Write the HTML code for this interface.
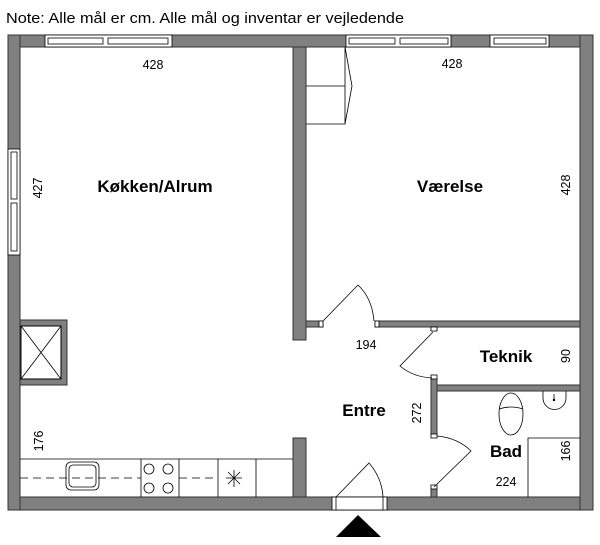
<!DOCTYPE html>
<html><head><meta charset="utf-8"><style>
html,body{margin:0;padding:0;background:#fff;width:600px;height:545px;overflow:hidden}
svg{display:block}
text{font-family:"Liberation Sans",sans-serif;fill:#000}
.b{font-weight:bold;font-size:17px}
.d{font-size:12.5px}
</style></head><body>
<svg width="600" height="545" viewBox="0 0 600 545" xmlns="http://www.w3.org/2000/svg">
<text x="6" y="23" font-size="15" textLength="398" lengthAdjust="spacingAndGlyphs">Note: Alle mål er cm. Alle mål og inventar er vejledende</text>
<g fill="#808080" stroke="#333" stroke-width="1">
<rect x="8" y="35" width="585" height="12"/>
<rect x="8" y="497" width="585" height="13"/>
<rect x="8" y="35" width="12" height="475"/>
<rect x="580" y="35" width="13" height="475"/>
<rect x="293" y="47" width="13" height="293"/>
<rect x="293" y="438" width="13" height="59"/>
<rect x="306" y="321" width="17" height="6"/>
<rect x="375" y="321" width="205" height="6"/>
<rect x="431" y="378" width="6" height="57"/>
<rect x="431" y="487" width="6" height="10"/>
<rect x="431" y="327" width="6" height="3"/>
<rect x="437" y="385" width="143" height="6"/>
<rect x="20" y="320" width="47" height="65"/>
</g>
<rect x="21" y="326" width="40" height="53" fill="#fff" stroke="#000"/>
<path d="M21 326L61 379M61 326L21 379" stroke="#000" stroke-width="0.8"/>
<g fill="#fff" stroke="#000" stroke-width="0.8">
<rect x="45" y="35" width="127" height="12"/>
<rect x="48" y="38" width="55" height="6"/><rect x="108" y="38" width="60" height="6"/>
<rect x="346" y="35" width="105" height="12"/>
<rect x="349" y="38" width="46" height="6"/><rect x="400" y="38" width="48" height="6"/>
<rect x="490" y="35" width="59" height="12"/>
<rect x="494" y="38" width="52" height="6"/>
<rect x="8" y="149" width="12" height="106"/>
<rect x="11" y="152" width="6" height="47"/><rect x="11" y="203" width="6" height="48"/>
<rect x="332" y="497" width="55" height="13"/>
<line x1="336" y1="497" x2="336" y2="510"/><line x1="383" y1="497" x2="383" y2="510"/>
<rect x="319" y="321" width="4" height="6"/><rect x="375" y="321" width="4" height="6"/>
<rect x="431" y="327" width="6" height="4"/><rect x="431" y="375" width="6" height="4"/>
<rect x="431" y="434" width="6" height="4"/><rect x="431" y="485" width="6" height="4"/>
</g>
<g fill="none" stroke="#000" stroke-width="0.8">
<path d="M323 321L358 285Q372 298 374 321"/>
<path d="M433 332L400 366Q413 377 432 378"/>
<path d="M437 436Q458 438 471 451L434 487"/>
<path d="M336 497L369 463Q382 478 383 497"/>
<path d="M306 86H345M306 124H345V47M345 47L352 86L345 124"/>
<path d="M20 459H293M141 459V497M179 459V497M218 459V497M256 459V497"/>
<path d="M20 478H141M179 478H218" stroke-dasharray="8 5"/>
<rect x="66" y="462" width="33" height="28" rx="5"/>
<rect x="69" y="465" width="27" height="22" rx="4"/>
<circle cx="149" cy="469" r="5"/><circle cx="168" cy="469" r="5"/>
<circle cx="149" cy="488" r="5"/><circle cx="168" cy="488" r="5"/>
<path d="M234 470V487M226 478H242M228 472L240 484M240 472L228 484"/>
<ellipse cx="511" cy="414" rx="12" ry="21"/>
<path d="M499 409Q511 405 523 409"/>
<path d="M543 391V398A11 11 0 0 0 566 398V391"/>
<path d="M528 497V438H580"/>
</g>
<circle cx="554" cy="400" r="1.2"/>
<line x1="554" y1="394" x2="554" y2="400" stroke="#000" stroke-width="0.8"/>
<polygon points="358,515 336,537 381,537" fill="#000"/>
<text class="d" x="153" y="69" text-anchor="middle">428</text>
<text class="d" x="452" y="68" text-anchor="middle">428</text>
<text class="b" x="155" y="192" text-anchor="middle">Køkken/Alrum</text>
<text class="b" x="450" y="192" text-anchor="middle">Værelse</text>
<text class="d" transform="translate(42,188) rotate(-90)" text-anchor="middle">427</text>
<text class="d" transform="translate(570,185) rotate(-90)" text-anchor="middle">428</text>
<text class="d" x="366" y="349" text-anchor="middle">194</text>
<text class="b" x="506" y="362" text-anchor="middle">Teknik</text>
<text class="d" transform="translate(570,356) rotate(-90)" text-anchor="middle">90</text>
<text class="b" x="364" y="416" text-anchor="middle">Entre</text>
<text class="d" transform="translate(421,413) rotate(-90)" text-anchor="middle">272</text>
<text class="d" transform="translate(43,441) rotate(-90)" text-anchor="middle">176</text>
<text class="b" x="506" y="457" text-anchor="middle">Bad</text>
<text class="d" x="506" y="486" text-anchor="middle">224</text>
<text class="d" transform="translate(570,451) rotate(-90)" text-anchor="middle">166</text>
</svg>
</body></html>
